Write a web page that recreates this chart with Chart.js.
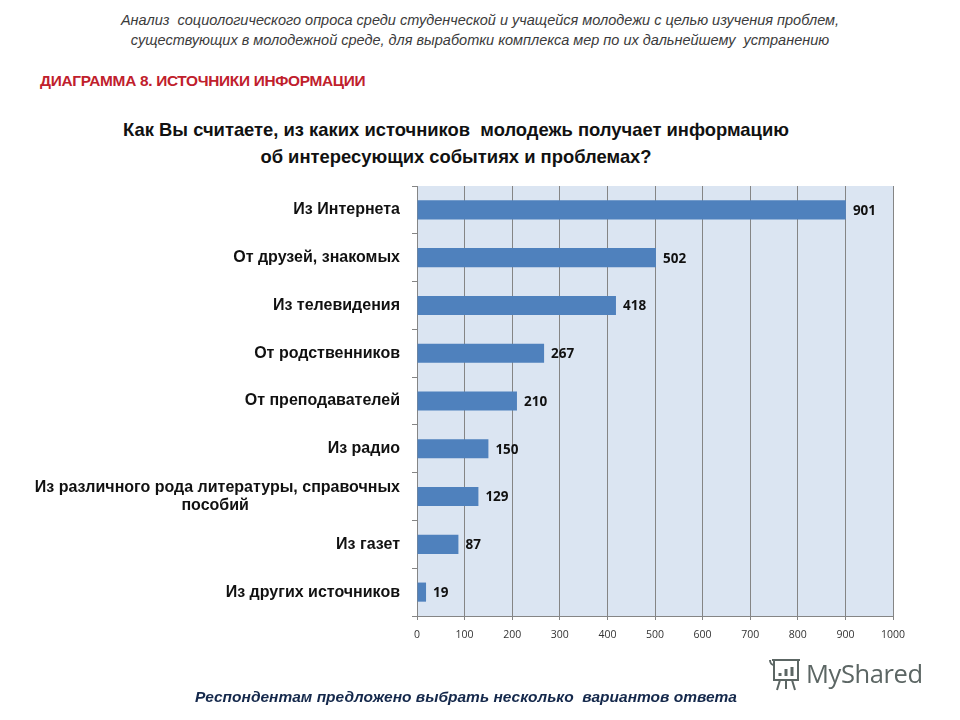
<!DOCTYPE html>
<html lang="ru">
<head>
<meta charset="utf-8">
<title>Диаграмма 8. Источники информации</title>
<script src="https://cdn.jsdelivr.net/npm/chart.js@4"></script>
<style>
    html, body { margin: 0; padding: 0; background: #fff; }
    #page { position: relative; width: 960px; height: 720px; overflow: hidden; font-family: "Liberation Sans", sans-serif; }
    #page canvas { position: absolute; left: 0; top: 0; }
    .txt { position: absolute; white-space: pre; }
    .head { left: 0; width: 960px; text-align: center; font-style: italic; font-size: 14.5px; color: #3b3b3b; }
    .title { left: 0; width: 912px; text-align: center; font-weight: bold; font-size: 18.4px; color: #111; }
    .red { left: 40px; top: 72px; font-weight: bold; font-size: 15.4px; color: #c0202c; letter-spacing: -0.3px; }
    .note { left: 0; width: 932px; top: 688px; text-align: center; font-style: italic; font-weight: bold; font-size: 15.5px; color: #14284b; }
    .brand { left: 806px; top: 656px; font-family: "Open Sans", sans-serif; font-size: 25.5px; color: #5c6664; letter-spacing: -0.4px; }
    #logo { position: absolute; left: 768px; top: 657px; }
</style>
</head>
<body>
<div id="page">
    <div class="txt head" style="top:12px">Анализ  социологического опроса среди студенческой и учащейся молодежи с целью изучения проблем,</div>
    <div class="txt head" style="top:32px">существующих в молодежной среде, для выработки комплекса мер по их дальнейшему  устранению</div>
    <div class="txt red">ДИАГРАММА 8. ИСТОЧНИКИ ИНФОРМАЦИИ</div>
    <div class="txt title" style="top:119px">Как Вы считаете, из каких источников  молодежь получает информацию</div>
    <div class="txt title" style="top:146px">об интересующих событиях и проблемах?</div>
    <canvas id="chart" width="960" height="720"></canvas>
    <svg id="logo" width="36" height="36" viewBox="0 0 36 36" fill="none" stroke="#5c6664" stroke-width="2">
        <path d="M4 3h28M6 3v20h24V3M2 3c0 3 2 5 4 5M12 23l-3 10M24 23l3 10M18 23v9"/>
        <path d="M12 19v-3M18 19v-7M24 19v-9" stroke-width="3"/>
    </svg>
    <div class="txt brand">MyShared</div>
    <div class="txt note">Респондентам предложено выбрать несколько  вариантов ответа</div>
</div>
<script>
const categories = [
    'Из Интернета',
    'От друзей, знакомых',
    'Из телевидения',
    'От родственников',
    'От преподавателей',
    'Из радио',
    ['Из различного рода литературы, справочных', 'пособий'],
    'Из газет',
    'Из других источников'
];
const counts = [901, 502, 418, 267, 210, 150, 129, 87, 19];
const axisTicks = [0, 100, 200, 300, 400, 500, 600, 700, 800, 900, 1000];

// plot background
const plotBg = {
    id: 'plotBg',
    beforeDraw(chart) {
        const a = chart.chartArea;
        chart.ctx.save();
        chart.ctx.fillStyle = '#dbe5f2';
        chart.ctx.fillRect(a.left, a.top, a.right - a.left, a.bottom - a.top);
        chart.ctx.restore();
    }
};

// numbers next to the bars
const barValues = {
    id: 'barValues',
    afterDatasetsDraw(chart) {
        const ctx = chart.ctx;
        ctx.save();
        ctx.font = 'bold 13.5px "Open Sans", sans-serif';
        ctx.fillStyle = '#111';
        ctx.textBaseline = 'middle';
        chart.getDatasetMeta(0).data.forEach((bar, i) => {
            ctx.fillText(counts[i], bar.x + 7, bar.y + 1);
        });
        ctx.restore();
    }
};

new Chart(document.getElementById('chart').getContext('2d'), {
    type: 'bar',
    data: {
        labels: categories,
        datasets: [{
            data: counts,
            backgroundColor: '#4f81bd',
            barPercentage: 0.4,
            categoryPercentage: 1
        }]
    },
    plugins: [plotBg, barValues],
    options: {
        indexAxis: 'y',
        responsive: false,
        animation: false,
        layout: { padding: { top: 186, right: 67, bottom: 0, left: 0 } },
        plugins: { legend: { display: false }, tooltip: { enabled: false } },
        scales: {
            x: {
                position: 'bottom',
                min: 0,
                max: 1000,
                afterBuildTicks(axis) { axis.ticks = axisTicks.map(v => ({ value: v })); },
                afterFit(axis) { axis.height = 104; },
                grid: { color: '#858585', lineWidth: 1, tickLength: 4 },
                border: { color: '#858585' },
                ticks: {
                    maxRotation: 0,
                    padding: 9,
                    color: '#333',
                    callback: v => String(v),
                    font: { family: '"Open Sans", sans-serif', size: 10.5 }
                }
            },
            y: {
                afterFit(axis) { axis.width = 417; },
                grid: { drawOnChartArea: false, color: '#858585', tickLength: 5, offset: true },
                border: { color: '#858585' },
                ticks: {
                    padding: 12,
                    color: '#111',
                    // second line of the long label sits under the middle of the first
                    callback(v) {
                        const label = categories[v];
                        return Array.isArray(label) ? [label[0], label[1] + '\u00a0'.repeat(34)] : label;
                    },
                    font: { family: '"Liberation Sans", sans-serif', size: 16, weight: 'bold', lineHeight: 1.15 }
                }
            }
        }
    }
});
</script>
</body>
</html>
